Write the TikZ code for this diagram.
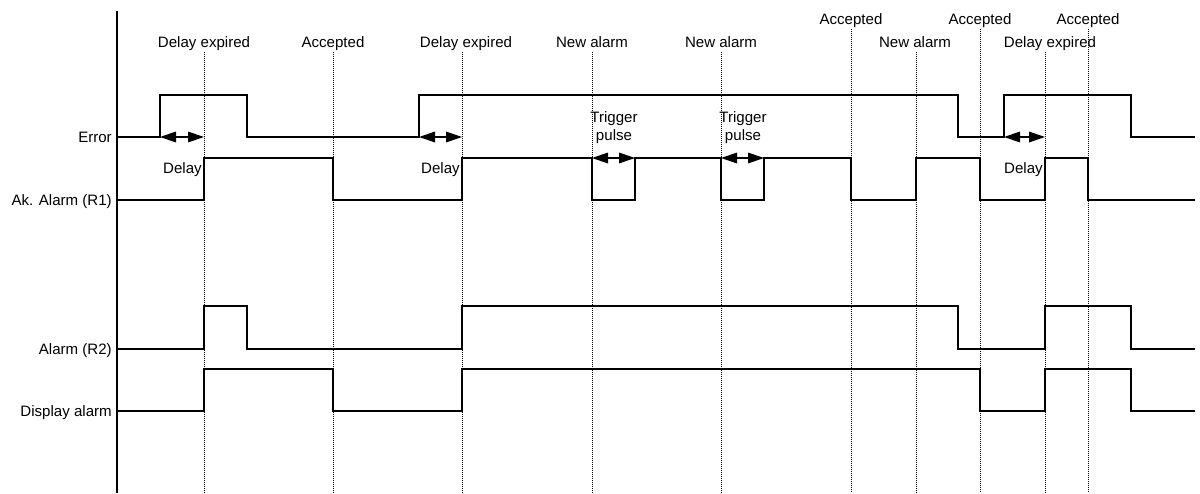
\documentclass[tikz,border=0pt]{standalone}
\usepackage{fontspec}
\setmainfont{Liberation Sans}
\usetikzlibrary{arrows.meta}

\begin{document}
\begin{tikzpicture}[x=0.75pt, y=-0.75pt,
    every node/.style={font=\fontsize{11.3}{13.5}\selectfont, inner sep=0pt},
    signal/.style={line width=0.9pt},
    evline/.style={densely dotted, line width=0.5pt},
    span/.style={{Triangle[length=12pt,width=8pt]}-{Triangle[length=12pt,width=8pt]}, line width=0.9pt}]
    \useasboundingbox (0,0) rectangle (1200,493);
    % time axis
    \draw[line width=0.8pt] (117,11) -- (117,493);
    % signal names
    \node[anchor=base east] (nErr) at (112,142) {Error};
    \node[anchor=base east] (nAk) at (112,205) {Ak. Alarm (R1)};
    \node[anchor=base east] (nAl) at (112,354) {Alarm (R2)};
    \node[anchor=base east] (nDisp) at (112,416) {Display alarm};
    % events: dotted marker and caption
    \foreach \x/\lx/\y/\txt [count=\i] in {204/204/47/Delay expired, 333/333/47/Accepted,
        462/466/47/Delay expired, 592/592/47/New alarm, 721/721/47/New alarm,
        851/851/24/Accepted, 916/915/47/New alarm, 980/980/24/Accepted,
        1045/1050/47/Delay expired, 1088/1088/24/Accepted} {
        \node[anchor=base] (ev\i) at (\lx,\y) {\txt};
        \draw[evline] (\x,{\y+5}) -- (\x,493);
    }
    % waveforms
    \draw[signal] (117,137) -| (160,95) -| (247,137) -| (419,95) -| (958,137)
        -| (1004,95) -| (1131,137) -- (1195,137);
    \draw[signal] (117,200) -| (204,158) -| (333,200) -| (462,158) -| (592,200)
        -| (635,158) -| (721,200) -| (764,158) -| (851,200) -| (916,158)
        -| (980,200) -| (1045,158) -| (1088,200) -- (1195,200);
    \draw[signal] (117,349) -| (204,306) -| (247,349) -| (462,306) -| (958,349)
        -| (1045,306) -| (1131,349) -- (1195,349);
    \draw[signal] (117,411) -| (204,369) -| (333,411) -| (462,369) -| (980,411)
        -| (1045,369) -| (1131,411) -- (1195,411);
    % delay spans
    \draw[span] (160,137) -- (204,137);
    \draw[span] (419,137) -- (462,137);
    \draw[span] (1004,137) -- (1045,137);
    \node[anchor=base east] (dl1) at (202,173) {Delay};
    \node[anchor=base east] (dl2) at (460,173) {Delay};
    \node[anchor=base east] (dl3) at (1043,173) {Delay};
    % trigger pulses
    \draw[span] (592,158) -- (635,158);
    \draw[span] (721,158) -- (764,158);
    \node[align=center, anchor=base] (tp1) at (614,140) {Trigger\\pulse};
    \node[align=center, anchor=base] (tp2) at (743,140) {Trigger\\pulse};
\end{tikzpicture}
\end{document}
